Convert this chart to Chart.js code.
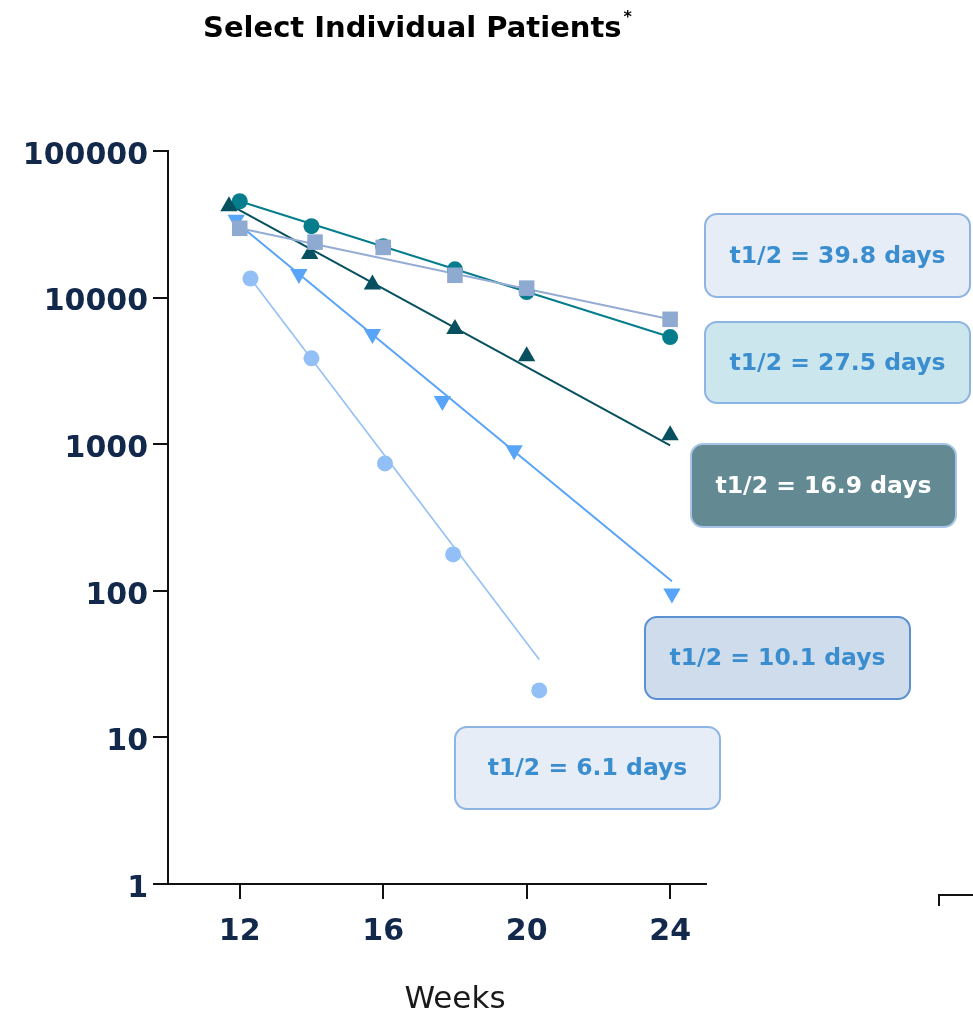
<!DOCTYPE html>
<html lang="en">
<head>
  <meta charset="UTF-8" />
  <title>Select Individual Patients</title>
  <script src="https://cdn.jsdelivr.net/npm/chart.js"></script>
  <style>
    *{margin:0;padding:0;box-sizing:border-box}
    body{background:#fff;width:973px;height:1016px;overflow:hidden}
    #pkChart{display:block}
  </style>
</head>
<body>
  <canvas id="pkChart" width="973" height="1016"></canvas>

  <script>
    // axis ticks
    const xTicks = [12, 16, 20, 24];
    const yTicks = [1, 10, 100, 1000, 10000, 100000];

    // half-lives shown in the label boxes (days)
    const halfLives = [39.8, 27.5, 16.9, 10.1, 6.1];

    // t1/2 = 39.8 days (squares)
    const weeks398 = [12, 14.1, 16, 18, 20, 24];
    const vals398  = [29700, 23900, 22000, 14200, 11600, 7110];
    const fitWeeks398 = [12, 24];
    const fitVals398  = [29700, 7110];

    // t1/2 = 27.5 days (teal circles)
    const weeks275 = [12, 14, 16, 18, 20, 24];
    const vals275  = [45400, 30700, 22400, 15600, 10900, 5380];
    const fitWeeks275 = [12, 24];
    const fitVals275  = [45400, 5380];

    // t1/2 = 16.9 days (up triangles)
    const weeks169 = [11.7, 13.95, 15.7, 18, 20, 24];
    const vals169  = [42000, 19800, 12300, 6100, 3980, 1150];
    const fitWeeks169 = [11.7, 24];
    const fitVals169  = [43300, 982];

    // t1/2 = 10.1 days (down triangles)
    const weeks101 = [11.9, 13.65, 15.7, 17.65, 19.65, 24.05];
    const vals101  = [33900, 14500, 5640, 1970, 910, 96];
    const fitWeeks101 = [11.9, 24.05];
    const fitVals101  = [32700, 116];

    // t1/2 = 6.1 days (light circles)
    const weeks061 = [12.3, 14, 16.05, 17.95, 20.35];
    const vals061  = [13500, 3850, 739, 177, 20.9];
    const fitWeeks061 = [12.3, 20.35];
    const fitVals061  = [13500, 34];

    const pts = (xs, ys) => xs.map((x, i) => ({ x: x, y: ys[i] }));

    const NAVY = '#13294b';
    const FONT = "'DejaVu Sans', sans-serif";

    // marker datasets first so they sit on top of the fit lines
    const datasets = [
      { data: pts(weeks398, vals398), pointStyle: 'rect', pointRadius: 11, backgroundColor: '#8eaad0', showLine: false },
      { data: pts(weeks169, vals169), pointStyle: 'triangle', pointRadius: 10, backgroundColor: '#07505f', showLine: false },
      { data: pts(weeks275, vals275), pointStyle: 'circle', pointRadius: 8, backgroundColor: '#067d8c', showLine: false },
      { data: pts(weeks101, vals101), pointStyle: 'triangle', rotation: 180, pointRadius: 10, backgroundColor: '#58a4f8', showLine: false },
      { data: pts(weeks061, vals061), pointStyle: 'circle', pointRadius: 8, backgroundColor: '#92c0f6', showLine: false },

      { data: pts(fitWeeks398, fitVals398), borderColor: '#95acd4', borderWidth: 2, pointRadius: 0, showLine: true },
      { data: pts(fitWeeks169, fitVals169), borderColor: '#07505f', borderWidth: 2, pointRadius: 0, showLine: true },
      { data: pts(fitWeeks275, fitVals275), borderColor: '#067d8c', borderWidth: 2, pointRadius: 0, showLine: true },
      { data: pts(fitWeeks101, fitVals101), borderColor: '#58a4f8', borderWidth: 2, pointRadius: 0, showLine: true },
      { data: pts(fitWeeks061, fitVals061), borderColor: '#92c0f6', borderWidth: 1.6, pointRadius: 0, showLine: true }
    ].map(d => Object.assign({ borderWidth: 0, pointHoverRadius: d.pointRadius }, d));

    // label boxes beside the line ends
    const boxStyles = [
      { x: 705, y: 214, w: 265, h: 83, fill: '#e6edf6', stroke: '#8db4e2', color: '#3a8ecf' },
      { x: 705, y: 322, w: 265, h: 81, fill: '#cce6ee', stroke: '#8db4e2', color: '#3a8ecf' },
      { x: 691, y: 444, w: 265, h: 83, fill: '#638a93', stroke: '#a8c4e6', color: '#ffffff' },
      { x: 645, y: 617, w: 265, h: 82, fill: '#cfdcec', stroke: '#5b90d3', color: '#3a8ecf' },
      { x: 455, y: 727, w: 265, h: 82, fill: '#e6edf6', stroke: '#8db4e2', color: '#3a8ecf' }
    ];

    const decorations = {
      id: 'decorations',
      afterDraw(chart) {
        const ctx = chart.ctx;
        const area = chart.chartArea;
        ctx.save();

        // title with raised asterisk
        ctx.fillStyle = '#000';
        ctx.textBaseline = 'alphabetic';
        ctx.textAlign = 'left';
        ctx.font = "bold 29px " + FONT;
        const title = 'Select Individual Patients';
        ctx.fillText(title, 203, 37);
        const tw = ctx.measureText(title).width;
        ctx.font = "bold 16px " + FONT;
        ctx.fillText('*', 203 + tw + 2, 22);

        // half-life boxes
        halfLives.forEach((h, i) => {
          const b = boxStyles[i];
          ctx.beginPath();
          ctx.roundRect(b.x, b.y, b.w, b.h, 12);
          ctx.fillStyle = b.fill;
          ctx.fill();
          ctx.lineWidth = 2;
          ctx.strokeStyle = b.stroke;
          ctx.stroke();
          ctx.fillStyle = b.color;
          ctx.font = "bold 23.5px " + FONT;
          ctx.textAlign = 'center';
          ctx.textBaseline = 'middle';
          ctx.fillText('t1/2 = ' + h + ' days', b.x + b.w / 2, b.y + b.h / 2 + 1);
        });

        // axis title
        ctx.fillStyle = '#1a1a1a';
        ctx.font = "31px " + FONT;
        ctx.textAlign = 'center';
        ctx.textBaseline = 'middle';
        ctx.fillText('Weeks', area.left + 287, 1000);

        // partial frame at lower right
        ctx.beginPath();
        ctx.moveTo(939, 906);
        ctx.lineTo(939, 895);
        ctx.lineTo(973, 895);
        ctx.lineWidth = 2;
        ctx.strokeStyle = '#111';
        ctx.stroke();

        ctx.restore();
      }
    };

    new Chart(document.getElementById('pkChart').getContext('2d'), {
      type: 'scatter',
      data: { datasets },
      options: {
        responsive: false,
        animation: false,
        devicePixelRatio: 1,
        layout: { padding: { top: 151, right: 267, bottom: 0, left: 0 } },
        plugins: {
          legend: { display: false },
          tooltip: { enabled: false }
        },
        scales: {
          x: {
            type: 'linear',
            min: 10,
            max: 25,
            afterBuildTicks: s => { s.ticks = xTicks.map(v => ({ value: v })); },
            afterFit: s => { s.height = 132; },
            border: { display: true, color: '#111', width: 2 },
            grid: { drawOnChartArea: false, drawTicks: true, tickLength: 15, color: '#111', lineWidth: 2 },
            ticks: { color: NAVY, font: { family: FONT, size: 30, weight: 'bold' }, padding: 15, maxRotation: 0 }
          },
          y: {
            type: 'logarithmic',
            min: 1,
            max: 100000,
            afterBuildTicks: s => { s.ticks = yTicks.map(v => ({ value: v })); },
            afterFit: s => { s.width = 168; },
            border: { display: true, color: '#111', width: 2 },
            grid: { drawOnChartArea: false, drawTicks: true, tickLength: 15, color: '#111', lineWidth: 2 },
            ticks: {
              color: NAVY,
              font: { family: FONT, size: 30, weight: 'bold' },
              padding: 5,
              labelOffset: 5,
              callback: v => String(v)
            }
          }
        }
      },
      plugins: [decorations]
    });
  </script>
</body>
</html>
